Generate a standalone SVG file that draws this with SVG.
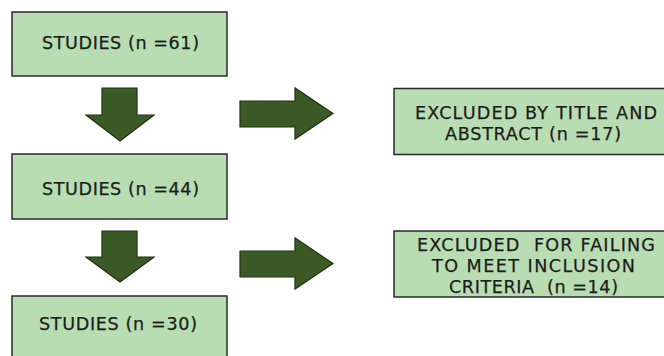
<svg xmlns="http://www.w3.org/2000/svg" width="664" height="356" viewBox="0 0 664 356">
<style>
.box{fill:#b9ddb2;stroke:#2a2a2a;stroke-width:1.5}
.arr{fill:#3b5a26;stroke:#1e3314;stroke-width:1.2}
.t{font-family:"DejaVu Sans","Open Sans",sans-serif;font-size:17.6px;fill:#1c1c1c;stroke:#1c1c1c;stroke-width:0.25;text-anchor:middle;white-space:pre}
</style>
<rect width="664" height="356" fill="#fff"/>
<g id="n1"><rect class="box" x="12" y="12" width="215" height="64"/><text class="t" x="120.5" y="49" textLength="157" lengthAdjust="spacing">STUDIES (n =61)</text></g>
<g id="n2"><rect class="box" x="12" y="154" width="215" height="65"/><text class="t" x="120.5" y="195" textLength="157" lengthAdjust="spacing">STUDIES (n =44)</text></g>
<g id="n3"><rect class="box" x="12" y="296" width="215" height="66"/><text class="t" x="118" y="330" textLength="158" lengthAdjust="spacing">STUDIES (n =30)</text></g>
<g id="e1"><rect class="box" x="394" y="88.5" width="280" height="66"/><text class="t" x="536" y="119" textLength="242" lengthAdjust="spacing">EXCLUDED BY TITLE AND</text><text class="t" x="533" y="139.5" textLength="176" lengthAdjust="spacing">ABSTRACT (n =17)</text></g>
<g id="e2"><rect class="box" x="394" y="231" width="280" height="66"/><text class="t" x="536" y="250.5" textLength="238" lengthAdjust="spacing" xml:space="preserve">EXCLUDED  FOR FAILING</text><text class="t" x="533.5" y="272" textLength="203" lengthAdjust="spacing">TO MEET INCLUSION</text><text class="t" x="533.5" y="293" textLength="169" lengthAdjust="spacing" xml:space="preserve">CRITERIA  (n =14)</text></g>
<g id="connectors">
<polygon class="arr" points="102,88 137,88 137,115 154,115 120,141 86,115 102,115"/>
<polygon class="arr" points="102,231 137,231 137,257 154,257 120,282 86,257 102,257"/>
<polygon class="arr" points="240,101 295,101 295,88 333,113.5 295,139 295,127 240,127"/>
<polygon class="arr" points="240,251 295,251 295,238 333,263.5 295,289 295,277 240,277"/>
</g>
</svg>
